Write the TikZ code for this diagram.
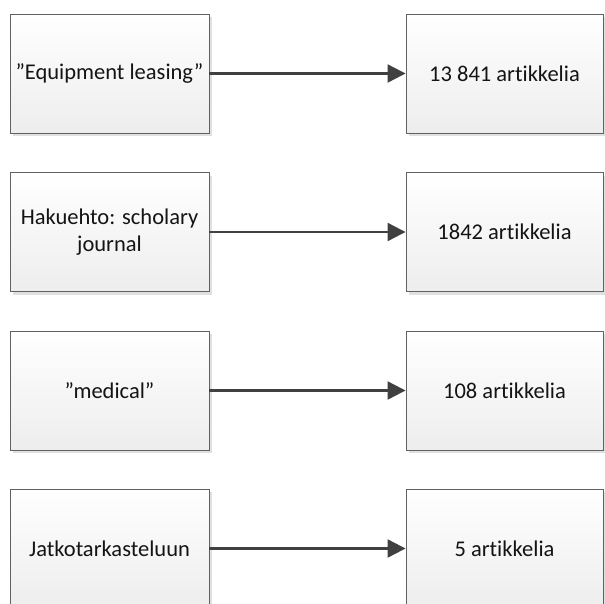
\documentclass[tikz,border=0pt]{standalone}
\usepackage{fontspec}
\setmainfont{Carlito}[Ligatures=NoCommon]
\usetikzlibrary{arrows.meta,shadows}
\tikzset{
  stagebox/.style={draw=black!62, line width=0.9pt, top color=white, bottom color=black!7,
    minimum width=199pt, minimum height=119pt, inner sep=2pt, align=center,
    font=\fontsize{22.5}{27}\selectfont, text=black!92,
    drop shadow={shadow xshift=3pt, shadow yshift=-3pt, fill=black!12, opacity=1}},
  flow/.style={draw=black!75, line width=2.2pt, -{Triangle[length=18pt,width=18pt]}}
}
\begin{document}
\begin{tikzpicture}[x=1pt,y=-1pt]
\useasboundingbox (0,0) rectangle (605,603);
\clip (0,0) rectangle (605,603);
% left column: search steps; right column: article counts
\node[stagebox] (s1) at (109.5,73.5) {”Equipment leasing”};
\node[stagebox, minimum width=197pt] (r1) at (504.5,73.5) {13 841 artikkelia};
\node[stagebox] (s2) at (109.5,232) {Hakuehto: scholary\\journal};
\node[stagebox, minimum width=197pt] (r2) at (504.5,232) {1842 artikkelia};
\node[stagebox] (s3) at (109.5,390.5) {”medical”};
\node[stagebox, minimum width=197pt] (r3) at (504.5,390.5) {108 artikkelia};
\node[stagebox] (s4) at (109.5,548.5) {Jatkotarkasteluun};
\node[stagebox, minimum width=197pt] (r4) at (504.5,548.5) {5 artikkelia};
\foreach \i in {1,...,4} \draw[flow] (s\i.east) -- (r\i.west);
\end{tikzpicture}
\end{document}
